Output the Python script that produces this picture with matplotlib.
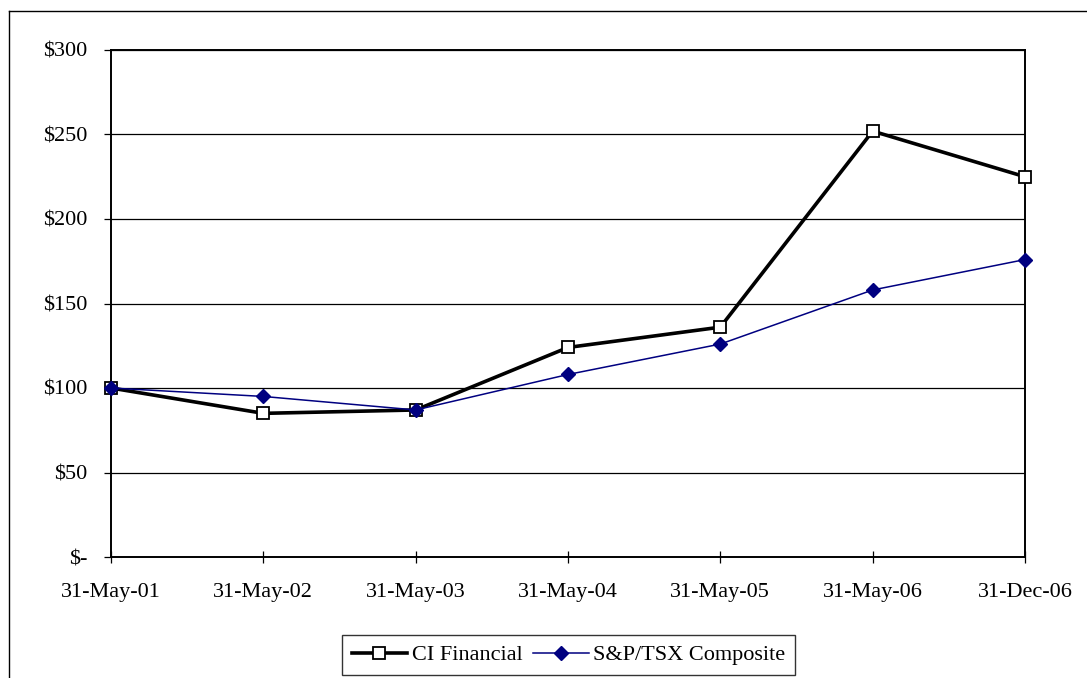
import matplotlib
matplotlib.use("Agg")
import matplotlib.pyplot as plt
from matplotlib.lines import Line2D

dates = ["31-May-01", "31-May-02", "31-May-03", "31-May-04", "31-May-05", "31-May-06", "31-Dec-06"]
ci_financial = [100, 85, 87, 124, 136, 252, 225]
sp_tsx = [100, 95, 87, 108, 126, 158, 176]
y_ticks = [0, 50, 100, 150, 200, 250, 300]
y_labels = ["$-", "$50", "$100", "$150", "$200", "$250", "$300"]

plt.rcParams['font.family'] = ['Liberation Serif', 'DejaVu Serif']
FS = 16

fig = plt.figure(figsize=(10.87, 6.78), dpi=100)
ax = fig.add_axes([111/1087, (678-557)/678, (1025-111)/1087, (557-50)/678])

x = list(range(len(dates)))
ax.plot(x, ci_financial, color='black', lw=2.6, marker='s', markersize=8,
        markerfacecolor='white', markeredgecolor='black', markeredgewidth=1.3,
        label='CI Financial', clip_on=False, zorder=3)
ax.plot(x, sp_tsx, color='#000080', lw=1.1, marker='D', markersize=7,
        markerfacecolor='#000080', markeredgecolor='#000080',
        label='S&P/TSX Composite', clip_on=False, zorder=4)

ax.set_xlim(0, len(dates) - 1)
ax.set_ylim(0, 300)
ax.set_yticks(y_ticks)
ax.set_yticklabels(y_labels)
ax.set_xticks(x)
ax.set_xticklabels(dates)
ax.yaxis.grid(True, color='black', lw=0.9)
ax.set_axisbelow(True)
for s in ax.spines.values():
    s.set_color('black')
    s.set_linewidth(1.4)
ax.tick_params(axis='y', direction='out', length=5, width=0.9, labelsize=FS, pad=12)
ax.tick_params(axis='x', direction='inout', length=8, width=0.9, labelsize=FS, pad=15)

fig.legend(loc='center', bbox_to_anchor=(568.5/1087, (678-655)/678), ncol=2,
           frameon=True, fancybox=False, edgecolor='black', fontsize=FS,
           handlelength=2.5, handletextpad=0.2, columnspacing=0.5,
           borderpad=0.45, borderaxespad=0)

# outer chart border (left and top visible)
fig.add_artist(Line2D([8.5/1087, 8.5/1087], [0, (678-10.5)/678], color='black', lw=1.0,
                      transform=fig.transFigure))
fig.add_artist(Line2D([8.5/1087, 1], [(678-10.5)/678, (678-10.5)/678], color='black', lw=1.0,
                      transform=fig.transFigure))

fig.savefig("out.png", dpi=100)
